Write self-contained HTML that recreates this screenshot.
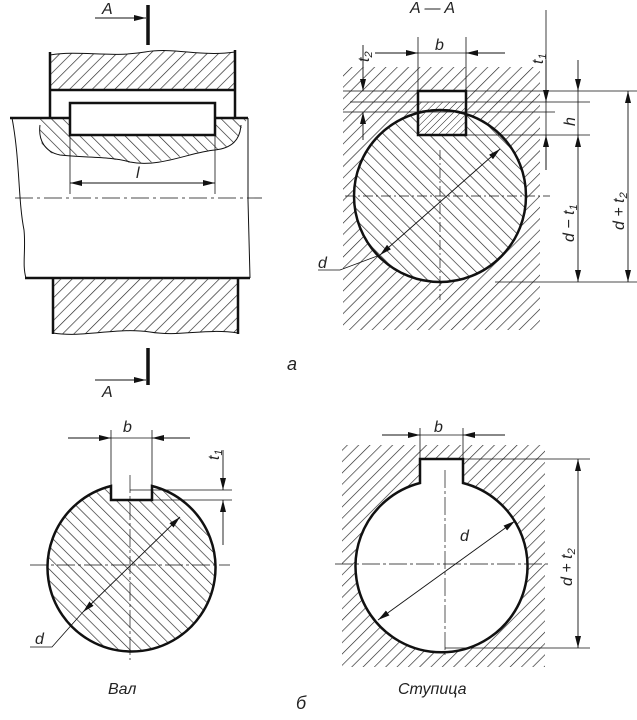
<!DOCTYPE html>
<html><head><meta charset="utf-8"><style>
html,body{margin:0;padding:0;background:#fff;}
svg{display:block;}
text{font-family:"Liberation Sans",sans-serif;font-style:italic;fill:#222;}
</style></head><body>
<svg width="637" height="720" viewBox="0 0 637 720" xmlns="http://www.w3.org/2000/svg">
<defs>
<pattern id="hf" width="8" height="8" patternUnits="userSpaceOnUse" patternTransform="rotate(45)">
<line x1="0" y1="0" x2="0" y2="8" stroke="#222" stroke-width="1.3"/></pattern>
<pattern id="hb" width="8" height="8" patternUnits="userSpaceOnUse" patternTransform="rotate(-45)">
<line x1="0" y1="0" x2="0" y2="8" stroke="#222" stroke-width="1.3"/></pattern>
<pattern id="hs" width="5" height="5" patternUnits="userSpaceOnUse" patternTransform="rotate(45)">
<line x1="0" y1="0" x2="0" y2="5" stroke="#222" stroke-width="1"/></pattern>
<marker id="ar" viewBox="0 0 12 6" refX="12" refY="3" markerWidth="12" markerHeight="6" orient="auto-start-reverse" markerUnits="userSpaceOnUse">
<path d="M0,0 L12,3 L0,6 z" fill="#111"/></marker>
</defs>
<g stroke="#111" fill="none">
<path d="M50,55 C80,50 110,58 145,52 C175,47 200,57 235,52 L235,90 L50,90 Z" fill="url(#hf)" stroke="none"/>
<path d="M50,55 C80,50 110,58 145,52 C175,47 200,57 235,52" stroke-width="1"/>
<path d="M50,52 L50,118 M235,50 L235,118 M50,90 L235,90" stroke-width="2.5"/>
<path d="M40,118 L248,118 L240,130 C235,150 220,150 200,152 C170,158 140,170 110,158 C85,152 60,160 45,150 C38,140 40,128 40,118 Z" fill="url(#hb)" stroke="none"/>
<path d="M40,125 C38,140 45,152 60,155 C85,158 110,156 130,162 C160,168 190,152 215,150 C232,148 240,140 241,125" stroke-width="1"/>
<rect x="70" y="103" width="145" height="32" fill="#fff" stroke-width="2.5"/>
<path d="M10,118 L70,118 M215,118 L248,118" stroke-width="2.5"/>
<path d="M12,118 C20,160 18,200 24,230 C26,250 22,265 26,278" stroke-width="1"/>
<path d="M248,118 L248,200 L250,278" stroke-width="1"/>
<path d="M25,278 L250,278" stroke-width="2.5"/>
<path d="M70,135 L70,194 M215,135 L215,194" stroke-width="0.8"/>
<line x1="70" y1="183" x2="215" y2="183" stroke-width="0.9" marker-start="url(#ar)" marker-end="url(#ar)"/>
<line x1="15" y1="198" x2="262" y2="198" stroke-width="0.8" stroke-dasharray="18,4,3,4"/>
<path d="M53,278 L238,278 L238,333 C205,328 180,337 150,332 C115,327 85,338 53,333 Z" fill="url(#hf)" stroke="none"/>
<path d="M53,333 C85,338 115,327 150,332 C180,337 205,328 238,333" stroke-width="1"/>
<path d="M53,278 L53,334 M238,278 L238,334" stroke-width="2.5"/>
<line x1="148" y1="5" x2="148" y2="45" stroke-width="3.5"/>
<line x1="95" y1="18" x2="146" y2="18" stroke-width="0.9" marker-end="url(#ar)"/>
<line x1="148" y1="348" x2="148" y2="385" stroke-width="3.5"/>
<line x1="95" y1="380" x2="146" y2="380" stroke-width="0.9" marker-end="url(#ar)"/>

<path d="M343,67 L540,67 L540,330 L343,330 Z M354,196 A86,86 0 1,0 526,196 A86,86 0 1,0 354,196 Z" fill="url(#hf)" fill-rule="evenodd" stroke="none"/>
<circle cx="440" cy="196" r="86" fill="url(#hb)" stroke="none"/>
<rect x="418" y="91" width="48" height="44" fill="#fff" stroke="none"/>
<rect x="418" y="102" width="48" height="33" fill="url(#hs)" stroke="none"/>
<circle cx="440" cy="196" r="86" stroke-width="2.5"/>
<rect x="418" y="91" width="48" height="44" stroke-width="2.5"/>
<path d="M343,91 L640,91 M350,102 L590,102 M343,112 L555,112 M466,135 L590,135 M495,282 L640,282" stroke-width="0.8"/>
<path d="M440,150 L440,300 M345,196 L550,196" stroke-width="0.7" stroke-dasharray="10,3,2,3"/>
<path d="M418,37 L418,91 M466,37 L466,91 M546,10 L546,170" stroke-width="0.8"/>
<line x1="375" y1="53" x2="418" y2="53" stroke-width="0.9" marker-end="url(#ar)"/>
<line x1="505" y1="53" x2="466" y2="53" stroke-width="0.9" marker-end="url(#ar)"/>
<line x1="418" y1="53" x2="466" y2="53" stroke-width="0.8"/>
<line x1="363" y1="45" x2="363" y2="91" stroke-width="0.9" marker-end="url(#ar)"/>
<line x1="363" y1="140" x2="363" y2="112" stroke-width="0.9" marker-end="url(#ar)"/>
<line x1="546" y1="60" x2="546" y2="102" stroke-width="0.9" marker-end="url(#ar)"/>
<line x1="546" y1="170" x2="546" y2="135" stroke-width="0.9" marker-end="url(#ar)"/>
<line x1="578" y1="60" x2="578" y2="91" stroke-width="0.9" marker-end="url(#ar)"/>
<line x1="578" y1="91" x2="578" y2="135" stroke-width="0.8"/>
<line x1="578" y1="135" x2="578" y2="282" stroke-width="0.9" marker-start="url(#ar)" marker-end="url(#ar)"/>
<line x1="628" y1="91" x2="628" y2="282" stroke-width="0.9" marker-start="url(#ar)" marker-end="url(#ar)"/>
<line x1="380" y1="255" x2="500" y2="149" stroke-width="0.9" marker-start="url(#ar)" marker-end="url(#ar)"/>
<path d="M318,270 L340,270 L380,255" stroke-width="0.8"/>

<path d="M111,486 A84,84 0 1,0 152,486 L152,500 L111,500 Z" fill="url(#hb)" stroke="none"/>
<path d="M111,486 A84,84 0 1,0 152,486 L152,500 L111,500 Z" stroke-width="2.5"/>
<path d="M111,430 L111,486 M152,430 L152,486" stroke-width="0.8"/>
<line x1="68" y1="438" x2="111" y2="438" stroke-width="0.9" marker-end="url(#ar)"/>
<line x1="190" y1="438" x2="152" y2="438" stroke-width="0.9" marker-end="url(#ar)"/>
<line x1="111" y1="438" x2="152" y2="438" stroke-width="0.8"/>
<path d="M130,490 L232,490 M152,500 L232,500" stroke-width="0.8"/>
<line x1="223" y1="450" x2="223" y2="490" stroke-width="0.9" marker-end="url(#ar)"/>
<line x1="223" y1="545" x2="223" y2="500" stroke-width="0.9" marker-end="url(#ar)"/>
<path d="M130,475 L130,660 M30,565 L230,565" stroke-width="0.7" stroke-dasharray="18,3,3,3"/>
<line x1="83" y1="612" x2="180" y2="517" stroke-width="0.9" marker-start="url(#ar)" marker-end="url(#ar)"/>
<path d="M30,647 L52,647 L83,612" stroke-width="0.8"/>

<path d="M342,445 L545,445 L545,667 L342,667 Z M420,459 L463,459 L463,483 A86,86 0 1,1 420,483 Z" fill="url(#hf)" fill-rule="evenodd" stroke="none"/>
<path d="M420,459 L463,459 L463,483 A86,86 0 1,1 420,483 Z" stroke-width="2.5"/>
<path d="M420,428 L420,459 M463,428 L463,459 M463,459 L590,459 M445,648 L590,648" stroke-width="0.8"/>
<line x1="382" y1="435" x2="420" y2="435" stroke-width="0.9" marker-end="url(#ar)"/>
<line x1="505" y1="435" x2="463" y2="435" stroke-width="0.9" marker-end="url(#ar)"/>
<line x1="420" y1="435" x2="463" y2="435" stroke-width="0.8"/>
<line x1="578" y1="459" x2="578" y2="648" stroke-width="0.9" marker-start="url(#ar)" marker-end="url(#ar)"/>
<path d="M445,470 L445,655 M335,564 L550,564" stroke-width="0.7" stroke-dasharray="18,3,3,3"/>
<line x1="378" y1="620" x2="515" y2="521" stroke-width="0.9" marker-start="url(#ar)" marker-end="url(#ar)"/>
</g>
<g font-size="16">
<text x="102" y="14">A</text>
<text x="102" y="397">A</text>
<text x="410" y="13">A — A</text>
<text x="136" y="178">l</text>
<text x="287" y="370" font-family="Liberation Serif" font-size="18">a</text>
<text x="435" y="50">b</text>
<text x="318" y="268">d</text>
<text x="123" y="432">b</text>
<text x="434" y="432">b</text>
<text x="35" y="644">d</text>
<text x="460" y="541">d</text>
<text x="108" y="694">Вал</text>
<text x="398" y="694">Ступица</text>
<text x="296" y="709" font-family="Liberation Serif" font-size="18">б</text>
<text transform="translate(369,62) rotate(-90)">t<tspan font-size="11" dy="3">2</tspan></text>
<text transform="translate(543,64) rotate(-90)">t<tspan font-size="11" dy="3">1</tspan></text>
<text transform="translate(575,126) rotate(-90)">h</text>
<text transform="translate(574,242) rotate(-90)">d − t<tspan font-size="11" dy="3">1</tspan></text>
<text transform="translate(624,230) rotate(-90)">d + t<tspan font-size="11" dy="3">2</tspan></text>
<text transform="translate(219,460) rotate(-90)">t<tspan font-size="11" dy="3">1</tspan></text>
<text transform="translate(572,586) rotate(-90)">d + t<tspan font-size="11" dy="3">2</tspan></text>
</g>
</svg>
</body></html>
